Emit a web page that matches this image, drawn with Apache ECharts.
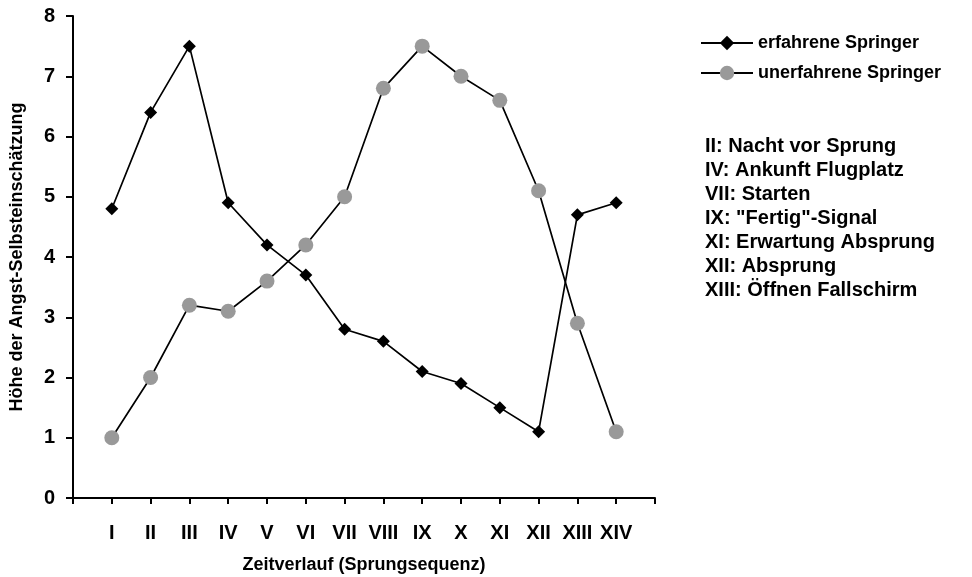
<!DOCTYPE html>
<html><head><meta charset="utf-8">
<script src="https://cdn.jsdelivr.net/npm/echarts@6/dist/echarts.min.js"></script>
<style>html,body{margin:0;padding:0;background:#fff}#c{width:972px;height:577px}</style>
</head><body><div id="c"></div>
<script>
const tickLabels = ['', 'I','II','III','IV','V','VI','VII','VIII','IX','X','XI','XII','XIII','XIV', ''];
const erfahrene = [4.8, 6.4, 7.5, 4.9, 4.2, 3.7, 2.8, 2.6, 2.1, 1.9, 1.5, 1.1, 4.7, 4.9];
const unerfahrene = [1.0, 2.0, 3.2, 3.1, 3.6, 4.2, 5.0, 6.8, 7.5, 7.0, 6.6, 5.1, 2.9, 1.1];
const notes = ['II: Nacht vor Sprung','IV: Ankunft Flugplatz','VII: Starten','IX: "Fertig"-Signal','XI: Erwartung Absprung','XII: Absprung','XIII: Öffnen Fallschirm'];
const FONT = 'Liberation Sans, Arial, sans-serif';
const chart = echarts.init(document.getElementById('c'));
const toXY = arr => arr.map((v, i) => [i + 1, v]);
chart.setOption({
  animation: false,
  backgroundColor: '#fff',
  textStyle: {fontFamily: FONT},
  grid: {left: 73, right: 317, top: 16, bottom: 79, containLabel: false, outerBoundsMode: 'none'},
  xAxis: {
    type: 'value', min: 0, max: 15, interval: 1,
    name: 'Zeitverlauf (Sprungsequenz)', nameLocation: 'middle', nameGap: 58,
    nameTextStyle: {fontFamily: FONT, fontWeight: 'bold', fontSize: 18, color: '#000'},
    axisLine: {show: true, lineStyle: {color: '#000', width: 2}},
    axisTick: {show: true, inside: false, length: 6, lineStyle: {color: '#000', width: 2}},
    axisLabel: {margin: 25, fontFamily: FONT, fontWeight: 'bold', fontSize: 20, color: '#000',
      formatter: v => tickLabels[v] || ''},
    splitLine: {show: false}
  },
  yAxis: {
    type: 'value', min: 0, max: 8, interval: 1,
    name: 'Höhe der Angst-Selbsteinschätzung', nameLocation: 'middle', nameGap: 47, nameRotate: 90,
    nameTextStyle: {fontFamily: FONT, fontWeight: 'bold', fontSize: 18, color: '#000'},
    axisLine: {show: true, lineStyle: {color: '#000', width: 2}},
    axisTick: {show: true, inside: false, length: 7, lineStyle: {color: '#000', width: 2}},
    axisLabel: {margin: 18, fontFamily: FONT, fontWeight: 'bold', fontSize: 20, color: '#000'},
    splitLine: {show: false}
  },
  legend: {
    orient: 'vertical', left: 695, top: 29, itemGap: 12, itemWidth: 52, itemHeight: 18,
    textStyle: {fontFamily: FONT, fontWeight: 'bold', fontSize: 18, color: '#000'},
    data: ['erfahrene Springer', 'unerfahrene Springer']
  },
  graphic: [{
    type: 'text', left: 705, top: 134,
    style: {text: notes.join('\n'), fontFamily: FONT, fontWeight: 'bold', fontSize: 20, lineHeight: 24, fill: '#000'}
  }],
  series: [
    {name: 'erfahrene Springer', type: 'line', data: toXY(erfahrene), symbol: 'diamond', symbolSize: 13,
     lineStyle: {color: '#000', width: 1.7}, itemStyle: {color: '#000'}},
    {name: 'unerfahrene Springer', type: 'line', data: toXY(unerfahrene), symbol: 'circle', symbolSize: 15,
     lineStyle: {color: '#000', width: 1.7}, itemStyle: {color: '#999999'}}
  ]
});
</script></body></html>
